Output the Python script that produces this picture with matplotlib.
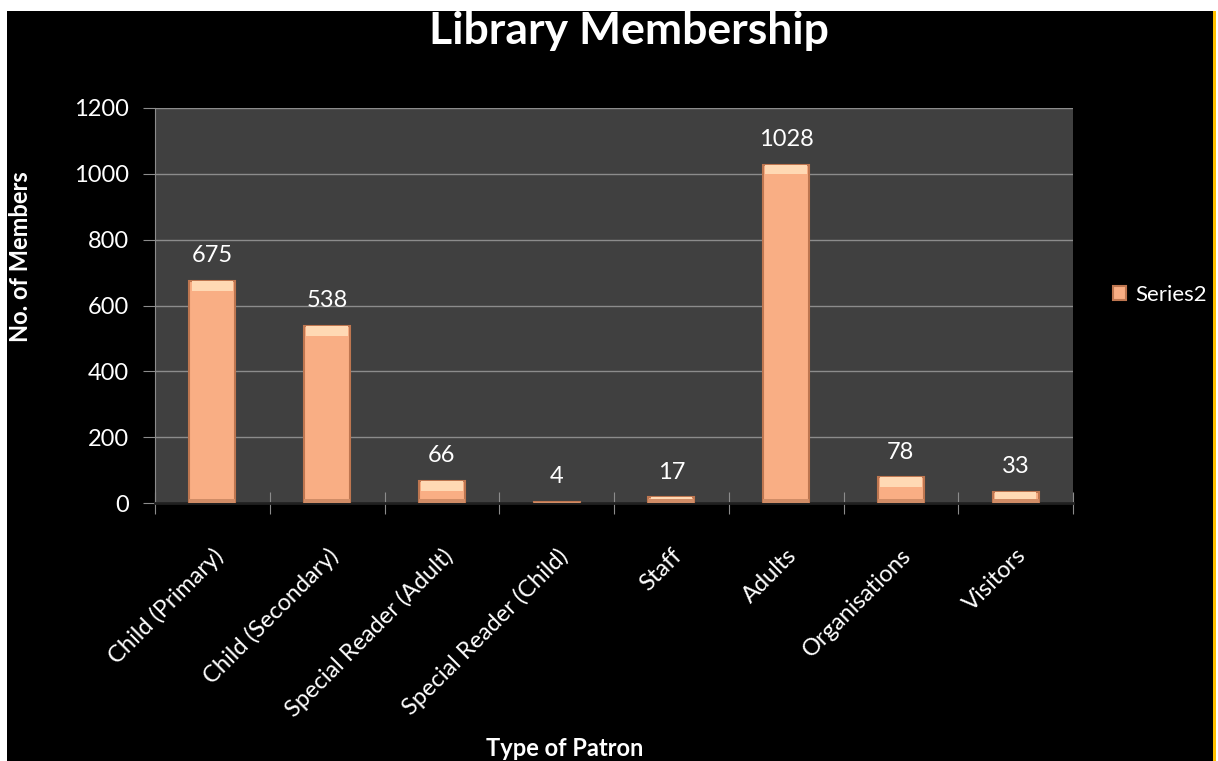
import matplotlib
matplotlib.use("Agg")
import matplotlib.pyplot as plt
from matplotlib.patches import Rectangle

# data
patron_types = ['Child (Primary)', 'Child (Secondary)', 'Special Reader (Adult)',
                'Special Reader (Child)', 'Staff', 'Adults', 'Organisations', 'Visitors']
members = [675, 538, 66, 4, 17, 1028, 78, 33]
y_ticks = [0, 200, 400, 600, 800, 1000, 1200]

plt.rcParams['font.family'] = ['Lato', 'DejaVu Sans']

fig = plt.figure(figsize=(12.18, 7.61), dpi=100)
fig.patch.set_facecolor('white')

# black chart background with yellow strip on the right
fig.add_artist(Rectangle((7/1218, 0), (1213-7)/1218, 1 - 11/761,
                         transform=fig.transFigure, facecolor='black', edgecolor='none', zorder=-10))
fig.add_artist(Rectangle((1213/1218, 0), 3/1218, 1 - 11/761,
                         transform=fig.transFigure, facecolor='#FFC000', edgecolor='none', zorder=-10))

ax = fig.add_axes([155/1218, 1 - 503/761, (1073-155)/1218, (503-108)/761])
ax.set_facecolor('#404040')

x = range(len(members))
bars = ax.bar(x, members, width=0.4, color='#F9AE84', edgecolor='#BE7650',
              linewidth=1.5, zorder=3, label='Series2')
# bevel: light top, darker base
hl = [min(v, 30) for v in members]
ax.bar(x, hl, bottom=[v - h for v, h in zip(members, hl)], width=0.36,
       color='#FFD9B4', edgecolor='none', zorder=4)
ax.bar(x, [min(v, 12) for v in members], width=0.4, color='#D08C66',
       edgecolor='none', zorder=4)

for i, v in enumerate(members):
    ax.text(i, v + 45, str(v), ha='center', va='bottom', color='white', fontsize=17)

ax.set_xlim(-0.5, len(members) - 0.5)
ax.set_ylim(0, 1200)
ax.set_yticks(y_ticks)
ax.yaxis.grid(True, color='#8C8C8C', linewidth=1, zorder=0)
ax.set_axisbelow(True)

ax.set_xticks([i - 0.5 for i in range(len(members) + 1)], minor=False)
ax.set_xticklabels([])
ax.set_xticks(list(x), minor=True)
ax.set_xticklabels(patron_types, minor=True, rotation=45, ha='right',
                   rotation_mode='anchor', color='white', fontsize=17)
ax.tick_params(axis='x', which='minor', length=0, pad=30)
ax.tick_params(axis='x', which='major', direction='inout', length=16, color='#8C8C8C')
ax.tick_params(axis='y', direction='out', length=9, color='#8C8C8C', labelcolor='white',
               labelsize=17, pad=10)

for s in ['top', 'right']:
    ax.spines[s].set_visible(False)
ax.spines['left'].set_color('#8C8C8C')
ax.spines['bottom'].set_color('#202020')
ax.spines['bottom'].set_linewidth(2)

fig.text(629/1218, 1 - 31/761, 'Library Membership', ha='center', va='center',
         color='white', fontsize=32, fontweight='bold')
fig.text(21/1218, 1 - 257/761, 'No. of Members', ha='center', va='center', rotation=90,
         color='white', fontsize=17, fontweight='bold')
fig.text(565/1218, 1 - 749/761, 'Type of Patron', ha='center', va='center',
         color='white', fontsize=17, fontweight='bold')

leg = fig.legend(handles=[bars], labels=['Series2'], loc='center left',
                 bbox_to_anchor=(1113/1218, 1 - 295/761), frameon=False, borderpad=0,
                 borderaxespad=0, fontsize=16, handlelength=0.6, handleheight=0.6,
                 handletextpad=0.4)
for t in leg.get_texts():
    t.set_color('white')

fig.savefig('out.png', dpi=100, facecolor=fig.get_facecolor())
